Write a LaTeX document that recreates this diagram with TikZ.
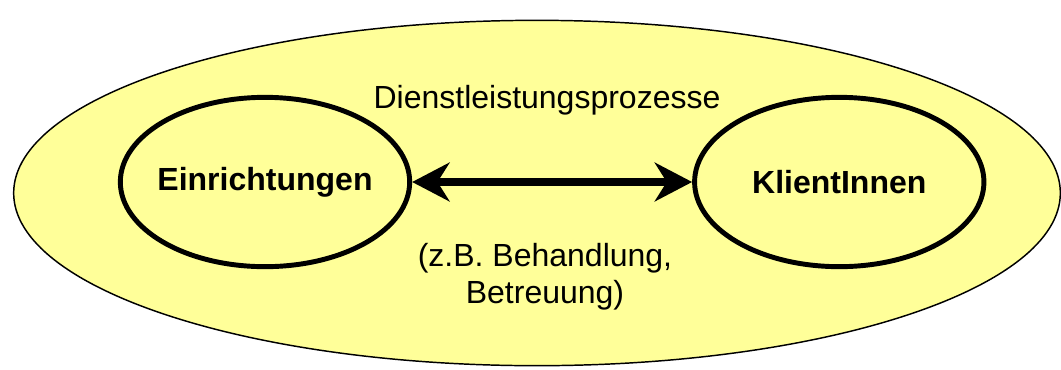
\documentclass[tikz,border=0pt]{standalone}
\usepackage{fontspec}
\setmainfont{Liberation Sans}
\usetikzlibrary{arrows.meta, positioning, shapes.geometric}
\definecolor{paleyellow}{RGB}{255,255,153}
\tikzstyle{field}=[ellipse, draw=black, fill=paleyellow, line width=1.1pt, minimum width=785pt, minimum height=259pt]
\tikzstyle{party}=[ellipse, draw=black, line width=3.7pt, minimum width=217pt, minimum height=127pt]
\tikzstyle{partyname}=[font=\bfseries\fontsize{24}{28}\selectfont]
\tikzstyle{caption}=[font=\fontsize{24}{28}\selectfont, align=center]
\tikzstyle{exchange}=[line width=6.5pt, {Stealth[length=28pt, width=29pt, inset=9pt]}-{Stealth[length=28pt, width=29pt, inset=9pt]}]

\begin{document}
\begin{tikzpicture}[x=0.75pt, y=-0.75pt]
  \useasboundingbox (0,0) rectangle (1061,369);
  \node[field] (field) at (537,193) {};
  \node[party] (einr) at (265,182) [label={[partyname]center:Einrichtungen}] {};
  \node[party] (klient) [right=210pt of einr, label={[partyname]center:KlientInnen}] {};
  \node[caption] (proc) at (547,100) {Dienstleistungsprozesse};
  \node[caption] (bsp) at (545,277) {(z.B. Behandlung,\\Betreuung)};
  \draw[exchange] (einr) -- (klient);
\end{tikzpicture}
\end{document}
